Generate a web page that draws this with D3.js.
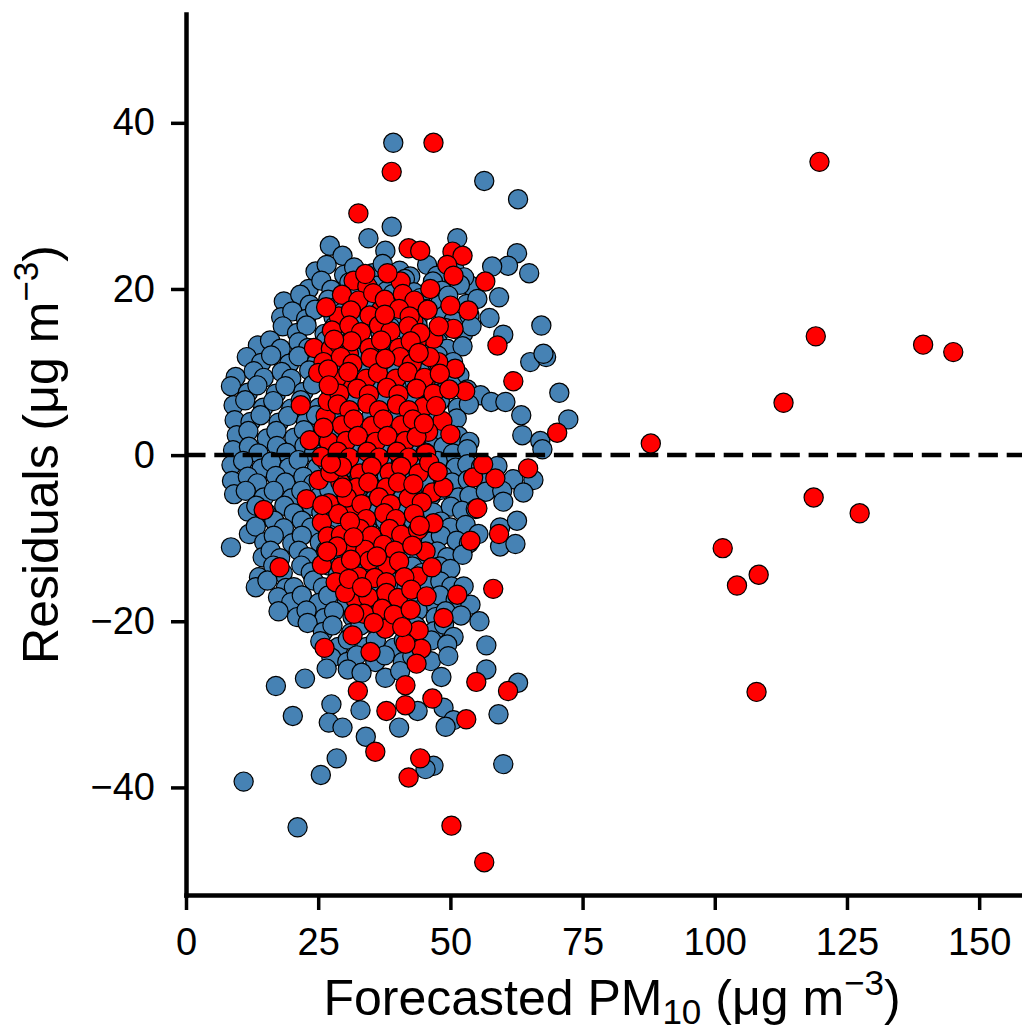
<!DOCTYPE html>
<html>
<head>
<meta charset="utf-8">
<script src="https://cdn.jsdelivr.net/npm/d3@7"></script>
<style>
  body { margin: 0; background: #fff; }
  text { font-family: "Liberation Sans", Arial, Helvetica, sans-serif; fill: #000; }
</style>
</head>
<body>
<svg id="chart" width="1022" height="1032"></svg>
<script>
const xTicks = [0, 25, 50, 75, 100, 125, 150]
const yTicks = [-40, -20, 0, 20, 40]

// [forecast, residual], blue series drawn first
const bluePoints = [
  [39.2,37.6],[56.4,33.0],[62.8,30.8],[38.9,27.5],[34.5,26.1],[27.2,25.2],[29.6,24.0],[37.7,24.6],[51.3,26.1],[62.6,24.3],[60.9,22.8],[57.9,22.7],[64.9,21.9],[53.8,20.4],
  [24.5,22.1],[26.6,22.9],[29.9,21.7],[31.8,22.6],[35.3,21.9],[37.2,23.0],[40.4,22.2],[42.4,21.5],[45.6,22.9],[47.5,21.6],[50.7,22.5],[52.6,21.4],
  [23.2,20.0],[25.6,21.0],[27.5,19.9],[30.9,20.8],[32.6,19.7],[36.1,20.4],[38.0,19.8],[41.4,21.2],[43.1,19.6],[46.7,20.9],[48.4,19.8],[51.8,20.5],
  [18.5,18.5],[21.6,19.3],[23.4,18.1],[26.9,18.7],[28.6,17.9],[32.2,19.1],[33.8,18.0],[37.4,18.4],[39.1,19.4],[42.6,18.2],[44.3,18.9],[47.9,18.1],[49.6,19.2],[53.1,18.2],[55.1,18.8],[59.2,19.0],
  [18.0,16.6],[20.1,17.3],[22.7,16.4],[24.4,17.5],[27.9,16.6],[29.7,17.2],[33.1,16.3],[34.9,17.4],[38.4,16.5],[40.2,17.0],[43.8,16.4],[45.4,17.6],[48.9,16.8],[50.6,16.2],[53.6,16.8],[57.4,16.5],
  [18.3,15.5],[21.0,14.7],[22.8,15.6],[26.2,14.6],[28.1,15.5],[31.5,14.7],[33.3,15.7],[36.8,14.6],[38.6,15.4],[42.0,14.8],[43.8,15.6],[47.3,14.5],[49.0,15.3],[52.4,14.6],[54.0,15.5],[60.0,14.5],[67.2,15.6],
  [13.6,13.2],[15.9,13.8],[17.9,12.8],[21.3,13.6],[23.1,12.9],[26.5,13.8],[28.4,12.7],[31.8,13.5],[33.6,12.8],[37.1,13.7],[38.9,12.9],[42.3,13.4],[44.1,12.6],[47.6,13.6],[49.4,12.8],[52.3,13.1],
  [11.5,11.8],[14.2,11.1],[16.1,12.0],[19.5,11.0],[21.3,11.9],[24.7,11.1],[26.6,12.1],[30.0,11.2],[31.8,11.9],[35.3,11.0],[37.1,12.0],[40.5,11.2],[42.3,11.8],[45.8,11.0],[47.6,12.0],[50.5,11.2],[65.1,11.2],[68.1,11.8],[67.6,12.2],
  [9.4,9.4],[12.8,10.1],[14.7,9.3],[18.1,10.0],[19.9,9.2],[23.3,10.2],[25.2,9.3],[28.6,10.0],[30.4,9.1],[33.8,10.1],[35.7,9.4],[39.1,10.2],[40.9,9.3],[44.4,9.9],[46.2,9.2],[49.5,10.1],[51.7,9.6],
  [8.5,8.3],[11.7,7.5],[13.5,8.4],[17.0,7.4],[18.8,8.3],[22.2,7.6],[24.0,8.5],[27.5,7.5],[29.3,8.3],[32.7,7.6],[34.6,8.4],[38.0,7.5],[39.8,8.3],[43.2,7.4],[45.1,8.2],[48.5,7.5],[50.2,8.4],[53.2,7.9],[55.7,7.2],[70.6,7.5],
  [9.0,6.0],[11.2,6.6],[14.6,5.7],[16.5,6.5],[19.9,5.6],[21.7,6.6],[25.1,5.7],[27.0,6.4],[30.4,5.6],[32.2,6.5],[35.7,5.8],[37.5,6.6],[40.9,5.7],[42.7,6.4],[46.2,5.6],[48.0,6.5],[51.4,5.7],[53.5,6.1],[57.7,6.4],[60.4,6.4],
  [9.2,4.2],[12.2,4.0],[14.1,4.8],[17.5,3.9],[19.3,4.7],[22.7,4.0],[24.6,4.8],[28.0,3.9],[29.8,4.6],[33.3,3.8],[35.1,4.7],[38.5,3.9],[40.3,4.8],[43.8,3.9],[45.6,4.6],[49.0,3.9],[51.2,4.4],[63.4,4.8],[72.3,4.3],
  [9.6,2.4],[11.8,2.9],[15.3,2.0],[17.1,2.9],[20.5,2.1],[22.3,3.0],[25.8,2.0],[27.6,2.8],[31.0,2.1],[32.9,3.0],[36.3,2.1],[38.1,2.9],[41.5,2.2],[43.4,3.0],[46.8,2.1],[48.6,2.9],[51.5,2.3],[53.6,1.6],[63.6,2.4],[67.0,1.7],
  [8.9,0.6],[11.9,1.0],[13.7,0.2],[17.2,1.1],[19.0,0.3],[22.4,1.1],[24.2,0.2],[27.7,1.0],[29.5,0.3],[32.9,1.2],[34.8,0.3],[38.2,1.0],[40.0,0.2],[43.4,1.1],[45.3,0.3],[48.7,1.0],[50.5,0.2],[53.2,0.7],[67.4,0.7],
  [8.6,-1.2],[10.8,-0.7],[14.3,-1.6],[16.1,-0.8],[19.5,-1.5],[21.3,-0.6],[24.8,-1.5],[26.6,-0.8],[30.0,-1.6],[31.9,-0.7],[35.3,-1.4],[37.1,-0.6],[40.5,-1.5],[42.4,-0.8],[45.8,-1.6],[47.6,-0.7],[51.0,-1.5],[53.2,-1.1],[55.8,-1.4],[58.9,-1.3],
  [8.7,-3.1],[11.7,-2.6],[13.5,-3.4],[17.0,-2.5],[18.8,-3.3],[22.2,-2.6],[24.1,-3.4],[27.5,-2.5],[29.3,-3.3],[32.8,-2.6],[34.6,-3.4],[38.0,-2.5],[39.8,-3.2],[43.3,-2.6],[45.1,-3.4],[48.5,-2.5],[50.3,-3.3],[53.3,-3.0],[56.5,-3.2],[61.9,-2.9],[65.7,-3.0],
  [9.1,-4.7],[11.3,-4.3],[14.7,-5.1],[16.6,-4.3],[20.0,-5.2],[21.8,-4.3],[25.2,-5.0],[27.1,-4.2],[30.5,-5.1],[32.3,-4.4],[35.8,-5.2],[37.6,-4.4],[41.0,-5.1],[42.8,-4.3],[46.3,-5.0],[48.1,-4.2],[51.5,-5.1],[53.6,-4.9],[56.7,-4.4],[59.8,-4.3],[63.8,-4.5],
  [11.7,-6.8],[13.3,-6.1],[15.1,-6.9],[18.6,-6.1],[20.4,-7.0],[23.8,-6.1],[25.6,-6.9],[29.1,-6.2],[30.9,-7.0],[34.3,-6.1],[36.2,-6.9],[39.6,-6.2],[41.4,-7.0],[44.8,-6.1],[46.7,-6.9],[50.1,-6.2],[52.2,-6.7],[54.8,-6.5],[60.0,-5.6],
  [11.9,-9.5],[13.2,-8.6],[16.7,-7.9],[18.5,-8.8],[21.9,-7.9],[23.7,-8.7],[27.2,-7.8],[29.0,-8.6],[32.4,-7.9],[34.3,-8.9],[37.7,-7.9],[39.5,-8.7],[42.9,-7.8],[44.8,-8.8],[48.2,-8.0],[50.0,-8.7],[52.9,-8.4],[55.3,-9.5],[59.4,-8.7],[62.6,-7.9],
  [8.5,-11.1],[14.8,-10.5],[16.6,-9.7],[20.1,-10.6],[21.9,-9.7],[25.3,-10.5],[27.1,-9.6],[30.6,-10.6],[32.4,-9.8],[35.8,-10.5],[37.7,-9.7],[41.1,-10.6],[42.9,-9.7],[46.3,-10.4],[48.2,-9.7],[51.2,-10.3],[53.5,-10.6],[59.4,-11.0],[62.3,-10.7],
  [14.5,-12.3],[16.0,-11.5],[17.8,-12.4],[21.3,-11.5],[23.1,-12.3],[26.5,-11.5],[28.3,-12.4],[31.8,-11.5],[33.6,-12.2],[37.0,-11.4],[38.9,-12.3],[42.3,-11.5],[44.1,-12.4],[47.5,-11.6],[49.4,-12.3],[52.3,-12.0],
  [13.8,-14.7],[16.5,-13.3],[18.3,-14.2],[21.8,-13.3],[23.6,-14.1],[27.0,-13.3],[28.8,-14.2],[32.3,-13.3],[34.1,-14.0],[37.5,-13.2],[39.4,-14.1],[42.8,-13.4],[44.6,-14.2],[48.0,-13.4],[50.0,-13.7],
  [13.2,-15.9],[15.4,-15.1],[18.9,-16.0],[20.4,-15.9],[24.1,-15.1],[25.9,-15.9],[29.4,-15.0],[31.2,-16.0],[34.6,-15.1],[36.5,-15.9],[39.9,-15.2],[41.7,-16.0],[45.1,-15.3],[48.1,-15.2],[50.2,-15.8],[52.5,-15.8],
  [17.4,-17.1],[19.9,-17.7],[21.9,-16.9],[25.1,-17.8],[26.9,-16.9],[30.4,-17.7],[32.2,-16.8],[35.6,-17.7],[37.5,-16.9],[40.9,-17.8],[42.7,-17.0],[46.1,-17.6],[48.0,-16.9],[51.0,-17.4],[53.8,-18.0],
  [17.5,-18.8],[21.0,-19.5],[22.8,-18.7],[26.2,-19.6],[28.0,-18.8],[31.5,-19.5],[33.3,-18.6],[36.7,-19.6],[38.6,-18.8],[42.0,-19.5],[43.8,-18.7],[47.2,-19.5],[49.1,-18.8],[52.0,-19.3],[55.5,-20.0],
  [23.0,-20.2],[25.9,-21.3],[27.7,-20.5],[31.2,-21.4],[33.0,-20.5],[36.4,-21.3],[38.3,-20.5],[41.7,-21.4],[43.5,-20.6],[46.9,-21.2],[48.8,-20.4],[50.6,-21.9],
  [25.4,-22.4],[28.8,-23.1],[30.6,-22.2],[34.1,-23.1],[35.9,-22.3],[39.3,-23.2],[41.2,-22.3],[44.6,-23.1],[46.4,-22.3],[49.4,-22.8],[56.8,-22.9],
  [27.5,-24.4],[30.5,-24.9],[32.3,-24.1],[35.8,-24.9],[37.6,-24.1],[41.0,-24.9],[42.8,-24.2],[46.3,-24.8],[49.6,-24.2],
  [26.6,-25.7],[30.6,-25.8],[33.2,-26.2],[37.7,-26.8],[40.5,-26.0],[48.3,-26.7],[56.8,-25.8],[62.8,-27.4],[59.1,-31.2],[48.7,-30.4],[50.6,-31.9],[43.8,-30.8],
  [40.3,-32.8],[49.1,-32.7],[60.0,-37.2],[46.8,-37.4],[45.3,-37.8],[17.0,-27.8],[22.5,-26.9],[20.2,-31.4],[27.5,-30.0],[27.0,-32.2],[29.6,-32.8],[33.0,-30.7],
  [34.0,-33.9],[28.5,-36.5],[25.5,-38.5],[10.9,-39.3],[21.1,-44.8]
]

// red series, drawn on top of the blue one
const redPoints = [
  [46.8,37.6],[38.9,34.1],[32.6,29.1],[119.8,35.3],[119.1,14.3],[139.4,13.3],[145.1,12.4],[113.0,6.3],[87.9,1.4],[118.7,-5.1],[127.4,-7.0],
  [101.5,-11.2],[108.3,-14.4],[104.2,-15.7],[107.9,-28.5],[70.2,2.7],[58.9,13.2],[61.9,8.9],
  [42.1,24.9],[44.3,24.6],[50.4,24.5],[52.3,24.0],[49.4,22.9],[50.6,21.6],[56.6,20.9],[46.2,20.0],[40.6,20.9],[31.7,21.0],[34.3,20.3],[38.1,21.9],
  [53.4,17.4],[50.0,18.0],[50.6,15.2],[43.0,16.1],[46.8,14.0],[43.6,13.6],[50.9,10.4],[47.7,11.2],[45.3,8.8],[44.9,5.8],[48.5,4.1],[45.8,2.8],[50.0,2.5],[52.8,7.7],
  [28.9,16.7],[24.2,12.9],[27.4,12.8],[28.9,13.4],[21.7,6.0],[23.4,1.8],[27.0,1.6],[26.4,4.7],[26.8,6.5],[30.6,8.9],[36.8,11.2],[36.8,17.4],[30.8,12.2],
  [14.7,-6.6],[17.7,-13.5],[22.8,-5.3],[25.7,-8.1],[26.8,-9.8],[25.7,-13.2],[25.1,-3.0],[29.2,-3.3],[31.7,-6.9],[31.5,-11.4],[32.6,-14.6],[32.1,-17.4],[38.1,-20.4],
  [64.7,-1.6],[58.5,-2.8],[54.3,-2.7],[56.2,-1.1],[55.1,-6.4],[59.2,-9.5],[53.8,-10.3],[58.1,-16.1],[51.3,-16.8],[48.7,-19.6],[43.8,-14.6],[45.3,-11.6],
  [46.8,-8.2],[46.6,-4.5],[42.5,-4.7],[48.7,-3.9],
  [26.2,-23.2],[31.5,-21.7],[34.9,-23.7],[37.7,-20.9],[32.5,-28.4],[35.8,-35.7],[37.9,-30.8],[44.0,-21.1],[44.5,-23.3],[41.5,-22.7],[43.6,-25.1],
  [54.9,-27.3],[60.9,-28.4],[41.5,-27.7],[46.6,-29.3],[53.0,-31.8],[41.5,-30.1],[44.3,-36.5],[42.1,-38.8],[50.2,-44.6],[56.4,-49.0],
  [29.5,19.3],[32.6,18.6],[35.4,19.5],[37.6,18.7],[41.0,19.4],[43.2,18.6],
  [31.2,17.4],[34.7,16.8],[40.3,17.6],[42.3,16.7],[45.7,17.5],
  [27.6,15.0],[30.9,15.6],[33.1,14.8],[36.5,15.6],[38.7,14.9],[42.1,15.5],[44.3,14.7],[47.8,15.5],
  [31.3,13.7],[34.7,12.9],[36.9,13.8],[40.3,12.9],[42.5,13.7],
  [26.0,11.2],[29.3,11.8],[31.5,11.0],[34.9,11.7],[40.5,11.8],[42.7,11.0],[46.1,11.8],
  [25.0,9.9],[28.4,9.2],[30.7,10.0],[34.1,9.2],[36.3,9.9],[39.7,9.2],[41.9,10.0],[45.1,9.3],[48.0,9.8],
  [29.0,7.4],[32.4,8.0],[34.6,7.3],[38.0,8.1],[40.2,7.3],[43.6,8.0],[46.8,7.4],[49.8,7.9],
  [28.7,6.1],[30.9,5.4],[34.3,6.2],[36.5,5.4],[39.9,6.1],[42.1,5.4],[47.3,5.9],
  [29.5,3.6],[31.7,4.3],[35.1,3.5],[37.3,4.3],[40.7,3.6],[42.9,4.3],
  [30.3,1.7],[32.5,2.3],[35.9,1.6],[38.1,2.3],[41.5,1.7],[43.6,2.2],
  [25.6,-0.2],[28.7,0.4],[30.9,-0.3],[34.3,0.4],[36.5,-0.3],[39.9,0.4],[42.1,-0.3],[45.4,0.2],
  [27.3,-2.1],[29.5,-1.4],[32.9,-2.2],[35.1,-1.4],[38.5,-2.1],[40.7,-1.4],[44.0,-2.2],
  [32.3,-3.9],[34.5,-3.3],[37.9,-3.9],[40.1,-3.3],
  [27.0,-5.8],[30.4,-5.1],[33.2,-5.9],[36.5,-5.1],[38.7,-5.9],[42.1,-5.2],[44.6,-5.7],
  [28.8,-7.1],[34.1,-7.7],[37.5,-7.0],[39.7,-7.7],[43.1,-7.1],
  [29.3,-9.6],[32.9,-8.9],[35.1,-9.7],[38.5,-8.9],[40.7,-9.6],[43.9,-9.0],
  [28.6,-11.0],[33.9,-11.4],[37.3,-10.8],[39.5,-11.5],[42.8,-10.9],
  [29.3,-13.4],[34.7,-12.7],[38.1,-13.4],[40.3,-12.8],
  [28.3,-15.3],[35.7,-14.8],[37.9,-15.3],[41.3,-14.7],
  [30.1,-16.6],[34.5,-17.1],[37.9,-16.6],[40.1,-17.2],
  [33.7,-19.1],[37.1,-18.5],[39.3,-19.2],[42.5,-18.6],
  [26.5,17.8],[37.6,16.9],[28.0,13.9],[26.9,10.3],[37.7,11.6],[44.0,12.3],[27.0,8.4],[26.0,3.3],[27.4,-1.0],[29.6,-3.9],
  [43.0,-3.5],[25.8,-6.0],[31.0,-8.0],[31.7,-9.9],[26.7,-11.6],[31.2,-12.6],[30.8,-14.9],[33.3,-15.9],[42.6,-16.2],[35.5,-20.2],
  [31.8,-19.1],[40.9,-20.7],[45.5,-17.0],[46.5,-13.5],[46.0,-0.9],[47.6,-2.0],[45.0,3.8],[44.2,-8.5],[36.1,-12.2],[33.9,21.8]
]

const width = 1022
const height = 1032
const axisY = 895
const axisX = 186

const x = d3.scaleLinear().domain([0, 158.1]).range([axisX, width])
const y = d3.scaleLinear().domain([-52.95, 53.1]).range([axisY, 14])

const svg = d3.select('#chart')

// scatter: blue first, red on top
const drawSeries = (data, fill) => {
  svg.append('g')
    .selectAll('circle')
    .data(data)
    .join('circle')
    .attr('cx', d => x(d[0]))
    .attr('cy', d => y(d[1]))
    .attr('r', 9.6)
    .attr('fill', fill)
    .attr('stroke', '#000')
    .attr('stroke-width', 1.2)
}
drawSeries(bluePoints, '#4682b4')
drawSeries(redPoints, '#ff0000')

// zero reference line
svg.append('line')
  .attr('x1', x(0)).attr('x2', width)
  .attr('y1', y(0)).attr('y2', y(0))
  .attr('stroke', '#000')
  .attr('stroke-width', 4.5)
  .attr('stroke-dasharray', '19.5,8.8')

// axes
const xAxis = svg.append('g')
  .attr('transform', `translate(0,${axisY})`)
  .call(d3.axisBottom(x).tickValues(xTicks).tickSize(15).tickPadding(18).tickSizeOuter(0))
const yAxis = svg.append('g')
  .attr('transform', `translate(${axisX},0)`)
  .call(d3.axisLeft(y).tickValues(yTicks).tickSize(15).tickPadding(16).tickSizeOuter(0))

;[xAxis, yAxis].forEach(g => {
  g.select('.domain').attr('stroke-width', 4.5).attr('stroke-linecap', 'square')
  g.selectAll('.tick line').attr('stroke-width', 3.5)
  g.selectAll('.tick text')
    .attr('font-family', '"Liberation Sans", Arial, sans-serif')
    .attr('font-size', 38)
    .attr('fill', '#000')
})

// axis titles
const xTitle = svg.append('text')
  .attr('x', (axisX + width) / 2 + 8)
  .attr('y', 1015)
  .attr('text-anchor', 'middle')
  .attr('font-size', 50)
xTitle.append('tspan').text('Forecasted PM')
xTitle.append('tspan').attr('font-size', 35).attr('dy', 9).text('10')
xTitle.append('tspan').attr('dy', -9).text(' (μg m')
xTitle.append('tspan').attr('font-size', 35).attr('dy', -20).text('−3')
xTitle.append('tspan').attr('dy', 20).text(')')

const yTitle = svg.append('text')
  .attr('transform', `translate(58,${(14 + axisY) / 2}) rotate(-90)`)
  .attr('text-anchor', 'middle')
  .attr('font-size', 50)
yTitle.append('tspan').text('Residuals (μg m')
yTitle.append('tspan').attr('font-size', 35).attr('dy', -20).text('−3')
yTitle.append('tspan').attr('dy', 20).text(')')
</script>
</body>
</html>
